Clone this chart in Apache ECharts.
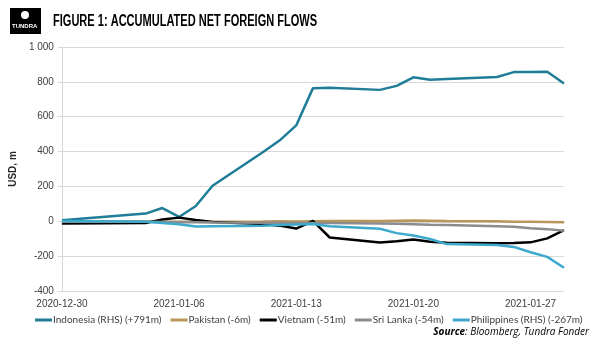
<!DOCTYPE html>
<html>
<head>
<meta charset="utf-8">
<script src="https://cdn.jsdelivr.net/npm/echarts@6/dist/echarts.min.js"></script>
<style>
    html, body { margin: 0; padding: 0; background: #fff; }
    #chart { width: 607px; height: 351px; }
</style>
</head>
<body>
<div id="chart"></div>
<script>
// trading days shown on the chart
const dates = ['2020-12-30', '2021-01-04', '2021-01-05', '2021-01-06', '2021-01-07', '2021-01-08',
    '2021-01-11', '2021-01-12', '2021-01-13', '2021-01-14', '2021-01-15',
    '2021-01-18', '2021-01-19', '2021-01-20', '2021-01-21', '2021-01-22',
    '2021-01-25', '2021-01-26', '2021-01-27', '2021-01-28', '2021-01-29'];

const indonesia = [6, 44, 76, 25, 88, 204, 396, 463, 550, 764, 766, 754, 777, 826, 812, 817, 828, 856, 857, 858, 791];
const pakistan = [0, -1, -2, -3, -2, -2, -1, 0, -1, 0, 1, 2, 3, 4, 3, 2, 0, -2, -3, -4, -6];
const vietnam = [-13, -10, 10, 21, 8, -4, -15, -25, -42, 3, -93, -122, -114, -104, -118, -123, -126, -124, -121, -98, -51];
const sriLanka = [-3, -3, -4, -5, -6, -7, -8, -9, -10, -10, -10, -12, -14, -17, -20, -22, -28, -32, -40, -45, -54];
const philippines = [2, -3, -10, -17, -30, -28, -26, -22, -19, -15, -29, -43, -68, -82, -102, -131, -136, -147, -178, -204, -267];

const seriesNames = ['Indonesia (RHS) (+791m)', 'Pakistan (-6m)', 'Vietnam (-51m)', 'Sri Lanka (-54m)', 'Philippines (RHS) (-267m)'];
const colors = ['#1F7D98', '#B9975B', '#000000', '#8C8C8C', '#3DA9CC'];

const xStart = '2020-12-30';
const xEnd = '2021-01-29';
const DAY = 86400000;

function ts(d) {
    return Date.parse(d + 'T00:00:00Z');
}

function pairs(values) {
    return values.map((v, i) => [ts(dates[i]), v]);
}

function pad(n) {
    return n < 10 ? '0' + n : '' + n;
}

const allValues = [indonesia, pakistan, vietnam, sriLanka, philippines];

let myChart = echarts.init(document.getElementById('chart'));
myChart.setOption({
    animation: false,
    textStyle: { fontFamily: 'Liberation Sans, sans-serif' },
    grid: {
        top: 47,
        left: 57,
        right: 43,
        bottom: 60
    },
    legend: {
        left: 30,
        top: 310,
        itemWidth: 17,
        itemHeight: 3,
        itemGap: 9,
        icon: 'rect',
        textStyle: { color: '#404040', fontSize: 10, fontFamily: 'Lato', padding: [0, 0, 0, -4] },
        data: seriesNames
    },
    xAxis: {
        type: 'value',
        min: ts(xStart),
        max: ts(xEnd),
        interval: 7 * DAY,
        splitLine: { show: false },
        axisLine: { lineStyle: { color: '#D9D9D9', width: 2 } },
        axisTick: { show: false },
        axisLabel: {
            color: '#404040',
            fontSize: 10,
            margin: 8,
            showMaxLabel: false,
            formatter: function (v) {
                let d = new Date(v);
                return d.getUTCFullYear() + '-' + pad(d.getUTCMonth() + 1) + '-' + pad(d.getUTCDate());
            }
        }
    },
    yAxis: {
        type: 'value',
        min: -400,
        max: 1000,
        interval: 200,
        name: 'USD, m',
        nameLocation: 'middle',
        nameRotate: 90,
        nameGap: 36,
        nameTextStyle: { color: '#262626', fontSize: 10, fontWeight: 'bold' },
        axisLine: { show: true, lineStyle: { color: '#D9D9D9' } },
        axisTick: { show: true, length: 4, lineStyle: { color: '#D9D9D9' } },
        splitLine: { lineStyle: { color: '#D9D9D9', width: 1 } },
        axisLabel: {
            color: '#404040',
            fontSize: 10,
            margin: 8,
            formatter: function (v) {
                return v === 1000 ? '1 000' : '' + v;
            }
        }
    },
    series: seriesNames.map((name, i) => ({
        name: name,
        type: 'line',
        showSymbol: false,
        symbol: 'none',
        color: colors[i],
        lineStyle: { width: 2.5, color: colors[i] },
        data: pairs(allValues[i])
    })),
    graphic: [
        // logo
        {
            type: 'rect',
            left: 10,
            top: 8,
            shape: { width: 31, height: 26 },
            style: { fill: '#000' }
        },
        {
            type: 'circle',
            left: 21,
            top: 11,
            shape: { r: 4 },
            style: { fill: '#fff' }
        },
        {
            type: 'text',
            left: 12,
            top: 23,
            style: { text: 'TUNDRA', fill: '#fff', font: 'bold 6px Liberation Sans' }
        },
        // title
        {
            type: 'text',
            x: 53,
            y: 14,
            scaleX: 0.69,
            style: {
                text: 'FIGURE 1: ACCUMULATED NET FOREIGN FLOWS',
                fill: '#000',
                fontSize: 16,
                fontWeight: 'bold',
                fontFamily: 'Liberation Sans'
            }
        },
        // source
        {
            type: 'text',
            right: 18,
            top: 327,
            style: {
                text: '{b|Source}{n|: Bloomberg, Tundra Fonder}',
                rich: {
                    b: { font: 'italic bold 10px "Open Sans"', fill: '#000' },
                    n: { font: 'italic 10px "Open Sans"', fill: '#000' }
                }
            }
        }
    ]
});
</script>
</body>
</html>
